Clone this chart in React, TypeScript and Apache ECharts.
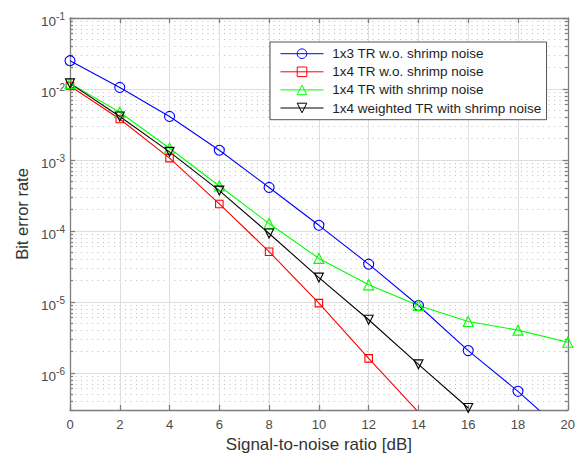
import React, { useEffect, useRef } from 'react';
import * as echarts from 'echarts';

// SNR in dB
const snr = [0, 2, 4, 6, 8, 10, 12, 14, 16, 18, 20];
// Bit error rates
const ber1x3TR = [2.5e-2, 1.05e-2, 4.1e-3, 1.37e-3, 4.1e-4, 1.2e-4, 3.4e-5, 8.9e-6, 2.06e-6, 5.5e-7, 1.3e-7];
const ber1x4TR = [1.1e-2, 3.77e-3, 1.06e-3, 2.4e-4, 5.1e-5, 9.6e-6, 1.6e-6, 2.8e-7];
const ber1x4TRShrimp = [1.2e-2, 4.7e-3, 1.46e-3, 4.3e-4, 1.27e-4, 4.1e-5, 1.74e-5, 8.9e-6, 5.3e-6, 4.0e-6, 2.7e-6];
const ber1x4WTRShrimp = [1.2e-2, 4.1e-3, 1.3e-3, 3.7e-4, 9.2e-5, 2.2e-5, 5.6e-6, 1.32e-6, 3.2e-7];

const seriesNames = [
  '1x3 TR w.o. shrimp noise',
  '1x4 TR w.o. shrimp noise',
  '1x4 TR with shrimp noise',
  '1x4 weighted TR with shrimp noise',
];

// y-axis tick values
const yMin = 3e-7;
const yMax = 0.1;
const majorTicks = [1e-6, 1e-5, 1e-4, 1e-3, 1e-2, 1e-1];
const minorTicks: number[] = [];
for (let e = -7; e <= -2; e++) {
  for (let m = 2; m <= 9; m++) {
    const v = m * Math.pow(10, e);
    if (v >= yMin && v <= yMax) minorTicks.push(v);
  }
}

const FONT = 'Liberation Sans, Arial, Helvetica, sans-serif';
const AXIS_COLOR = '#7d7d7d';
const LABEL_COLOR = '#4a4a4a';

function toPairs(values: number[]) {
  return values.map((v, i) => [snr[i], v]);
}

export default function App() {
  const ref = useRef<HTMLDivElement>(null);

  useEffect(() => {
    document.body.style.margin = '0';
    if (!ref.current) return;
    const chart = echarts.init(ref.current, null, { renderer: 'svg' });

    const expLabel = (v: number) => {
      const e = Math.round(Math.log10(v));
      if (Math.abs(v - Math.pow(10, e)) / Math.pow(10, e) > 1e-6) return '';
      return '{b|10}{sup|' + e + '}';
    };

    const axisLineStyle = { color: AXIS_COLOR, width: 1.3 };
    const yBase: any = { type: 'log', logBase: 10, min: yMin, max: yMax, gridIndex: 0 };
    const xBase: any = { type: 'value', min: 0, max: 20, interval: 2, gridIndex: 0 };

    const mk = (name: string, data: number[], color: string, symbol: string, size: number, rotate = 0) => ({
      name,
      type: 'line',
      data: toPairs(data),
      xAxisIndex: 0,
      yAxisIndex: 0,
      symbol,
      symbolSize: size,
      symbolRotate: rotate,
      showAllSymbol: true,
      clip: true,
      lineStyle: { color, width: 1.1 },
      itemStyle: { color: 'transparent', borderColor: color, borderWidth: 1.1 },
      emphasis: { disabled: true },
      z: 3,
    });

    const option: any = {
      animation: false,
      backgroundColor: '#ffffff',
      textStyle: { fontFamily: FONT },
      grid: { left: 70, right: 8, top: 18, bottom: 45, containLabel: false },
      legend: {
        orient: 'vertical',
        left: 270,
        top: 42,
        padding: [4.7, 5, 4.7, 10],
        itemWidth: 43,
        itemHeight: 12,
        itemGap: 4.1,
        backgroundColor: '#ffffff',
        borderColor: '#555555',
        borderWidth: 1,
        borderRadius: 0,
        selectedMode: false,
        lineStyle: { width: 1 },
        itemStyle: { borderWidth: 1 },
        textStyle: { fontSize: 13.5, color: '#1e1e1e', fontFamily: FONT, padding: [0, 0, 0, 3.7] },
        data: seriesNames,
        z: 10,
      },
      xAxis: [
        {
          ...xBase,
          position: 'bottom',
          name: 'Signal-to-noise ratio [dB]',
          nameLocation: 'middle',
          nameGap: 26,
          nameTextStyle: { fontSize: 17, color: '#333333', fontFamily: FONT },
          axisLine: { show: true, lineStyle: axisLineStyle },
          axisTick: { show: true, inside: true, length: 5, lineStyle: axisLineStyle },
          axisLabel: { fontSize: 13, color: LABEL_COLOR, margin: 8, fontFamily: FONT },
          splitLine: { show: true, lineStyle: { color: '#dedede', width: 1 } },
        },
        {
          ...xBase,
          position: 'top',
          axisLine: { show: true, lineStyle: axisLineStyle },
          axisTick: { show: true, inside: true, length: 5, lineStyle: axisLineStyle },
          axisLabel: { show: false },
          splitLine: { show: false },
        },
      ],
      yAxis: [
        {
          ...yBase,
          position: 'left',
          name: 'Bit error rate',
          nameLocation: 'middle',
          nameGap: 38,
          nameTextStyle: { fontSize: 16.5, color: '#333333', fontFamily: FONT },
          axisLine: { show: true, lineStyle: axisLineStyle },
          axisTick: { show: true, inside: true, length: 5, lineStyle: axisLineStyle, customValues: majorTicks },
          axisLabel: {
            customValues: majorTicks,
            formatter: expLabel,
            margin: 5,
            color: LABEL_COLOR,
            fontFamily: FONT,
            rich: {
              b: { fontSize: 13.5, color: LABEL_COLOR, fontFamily: FONT, padding: [7, 0, 0, 0] },
              sup: { fontSize: 10, color: LABEL_COLOR, fontFamily: FONT, padding: [0, 0, 3, 0] },
            },
          },
          splitLine: { show: true, lineStyle: { color: '#dedede', width: 1 } },
        },
        {
          ...yBase,
          position: 'left',
          axisLine: { show: false },
          axisTick: { show: true, inside: true, length: 3, lineStyle: axisLineStyle, customValues: minorTicks },
          axisLabel: { show: false },
          splitLine: { show: true, lineStyle: { color: '#bdbdbd', width: 1, type: [1, 4.5] } },
        },
        {
          ...yBase,
          position: 'right',
          axisLine: { show: true, lineStyle: axisLineStyle },
          axisTick: { show: true, inside: true, length: 5, lineStyle: axisLineStyle, customValues: majorTicks },
          axisLabel: { show: false },
          splitLine: { show: false },
        },
        {
          ...yBase,
          position: 'right',
          axisLine: { show: false },
          axisTick: { show: true, inside: true, length: 3, lineStyle: axisLineStyle, customValues: minorTicks },
          axisLabel: { show: false },
          splitLine: { show: false },
        },
      ],
      series: [
        mk(seriesNames[0], ber1x3TR, '#0000ff', 'circle', 10),
        mk(seriesNames[1], ber1x4TR, '#ff0000', 'rect', 7.5),
        mk(seriesNames[2], ber1x4TRShrimp, '#00ff00', 'triangle', 10),
        mk(seriesNames[3], ber1x4WTRShrimp, '#000000', 'triangle', 9, 180),
      ],
    };

    chart.setOption(option);
    return () => chart.dispose();
  }, []);

  return <div ref={ref} style={{ width: 578, height: 458 }} />;
}
